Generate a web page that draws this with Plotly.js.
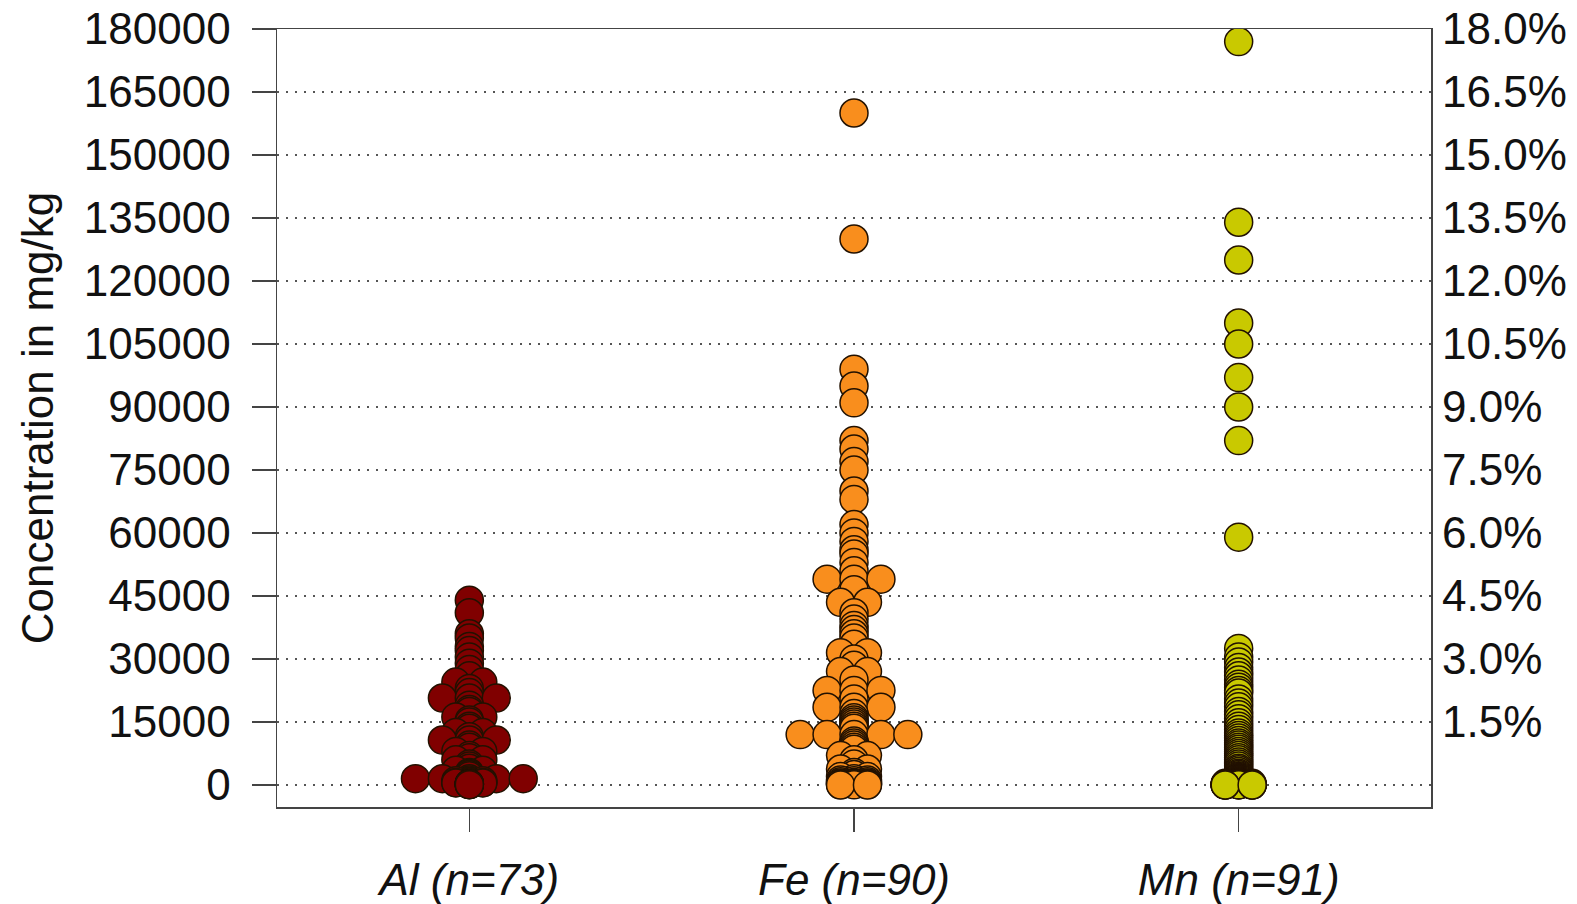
<!DOCTYPE html>
<html>
<head>
<meta charset="utf-8">
<script src="https://cdn.plot.ly/plotly-3.0.1.min.js"></script>
<style>html,body{margin:0;padding:0;background:#fff;}#chart{width:1577px;height:904px;}</style>
</head>
<body>
<div id="chart"></div>
<script>
// ---- data (mg/kg) ----
const categories = ["Al (n=73)", "Fe (n=90)", "Mn (n=91)"];
const groupNames = ["Al", "Fe", "Mn"];

const alValues = [
  44000, 41000, 36000, 35000, 33000, 32000, 30500, 29000, 27500, 26000,
  24500, 24500, 23000, 22000, 20700, 20700, 20700, 19000, 18000, 17500,
  16200, 16200, 15500, 15000, 14000, 13500, 12500, 12500, 11500,
  10700, 10700, 10700, 9500, 9000, 8000, 8000, 7000, 6500, 6000, 6000,
  5000, 4500, 4000, 3500, 3500, 3000, 2800, 2500, 2200,
  1500, 1500, 1500, 1500, 1500,
  1200, 1000, 1000, 900, 800, 700, 600, 600, 500, 500, 400, 350, 300, 250, 200, 150, 120, 100, 80
];

const feValues = [
  160000, 130000, 99000, 95000, 91000, 82000, 80000, 77000, 75000, 70000, 68000,
  62000, 60000, 58000, 56000, 55000, 53000, 51000,
  49000, 49000, 49000, 46500, 43500, 43500,
  41000, 39500, 38000, 37000, 36000, 35000, 33500,
  31500, 31500, 30000, 28500, 27000, 27000, 25000,
  22500, 22500, 22500, 20500, 18500, 18500, 18500,
  17000, 16000, 15500, 15000, 14500, 14000, 13500,
  12000, 12000, 12000, 12000, 12000,
  10500, 10000, 9500, 9000, 8500, 7000, 7000, 6000, 5000, 3800, 3800, 3000, 2500,
  2000, 2000, 1500, 1200, 1200, 1000, 800, 800, 600, 500, 500, 400, 300, 300, 200, 100, 100, 50, 0, 0
];

const mnValues = [
  177000, 134000, 125000, 110000, 105000, 97000, 90000, 82000, 59000,
  32500, 30500, 29300, 28000, 26900, 26000, 25000, 24000, 23300, 22500, 21900,
  20500, 19500, 18600, 17500, 16700, 15800, 14800, 14000, 13200, 12400,
  11800, 11200, 10600, 10000, 9500, 9000, 8500, 8000, 7500, 7000,
  6500, 6000, 5500, 5000, 4500, 4000, 3600, 3200, 2800,
  2500, 2200, 2000, 1800, 1600, 1500, 1400, 1300, 1200, 1100, 1000, 900, 800, 700, 600,
  550, 500, 450, 400, 400, 350, 300, 250, 200, 180, 150, 150, 120, 100, 100, 80, 60,
  50, 50, 40, 30, 30, 20, 20, 10, 10
];

const groupColors = ["#800000", "#F98E1D", "#C9C900"];

const leftTickVals = [0, 15000, 30000, 45000, 60000, 75000, 90000, 105000, 120000, 135000, 150000, 165000, 180000];
const rightTickVals = [15000, 30000, 45000, 60000, 75000, 90000, 105000, 120000, 135000, 150000, 165000, 180000];
const rightTickText = ["1.5%", "3.0%", "4.5%", "6.0%", "7.5%", "9.0%", "10.5%", "12.0%", "13.5%", "15.0%", "16.5%", "18.0%"];

// ---- layout of tied values: identical values are spread side by side ----
const STEP = 0.07; // horizontal step between tied points, in category units
function swarmX(values, centre) {
  const counts = {};
  values.forEach(v => { counts[v] = (counts[v] || 0) + 1; });
  const used = {};
  return values.map(v => {
    const k = counts[v];
    const i = used[v] || 0;
    used[v] = i + 1;
    return centre + (i - (k - 1) / 2) * STEP;
  });
}

const allGroups = [alValues, feValues, mnValues];
const FONT = "Liberation Sans, Arial, Helvetica, sans-serif";

const traces = allGroups.map((vals, g) => ({
  type: "scatter",
  mode: "markers",
  name: groupNames[g],
  x: swarmX(vals, g + 1),
  y: vals,
  xaxis: "x",
  yaxis: "y",
  marker: {
    size: 28,
    color: groupColors[g],
    line: { color: "#221100", width: 1.5 }
  },
  hoverinfo: "y+name",
  showlegend: false
}));

// invisible trace for right axis
traces.push({
  type: "scatter", mode: "markers", x: [2], y: [0], yaxis: "y2", xaxis: "x",
  marker: { opacity: 0 }, hoverinfo: "skip", showlegend: false
});

const yRange = [-5240, 180000];

const layout = {
  width: 1577,
  height: 904,
  paper_bgcolor: "#ffffff",
  plot_bgcolor: "#ffffff",
  margin: { l: 277, r: 146, t: 29, b: 97 },
  font: { family: FONT, color: "#111", size: 44 },
  showlegend: false,
  xaxis: {
    range: [0.5, 3.5],
    tickmode: "array",
    tickvals: [1, 2, 3],
    ticktext: categories,
    tickfont: { family: FONT, size: 44, color: "#111", style: "italic" },
    ticks: "outside",
    ticklen: 23,
    tickwidth: 1.5,
    tickcolor: "#444",
    ticklabelstandoff: 11,
    showgrid: false,
    zeroline: false,
    showline: true,
    linecolor: "#444",
    linewidth: 1.5,
    mirror: true
  },
  yaxis: {
    range: yRange,
    tickmode: "array",
    tickvals: leftTickVals,
    ticktext: leftTickVals.map(v => String(v)),
    tickfont: { family: FONT, size: 44, color: "#111" },
    ticks: "outside",
    ticklen: 24,
    tickwidth: 1.5,
    tickcolor: "#444",
    ticklabelstandoff: 12,
    showgrid: true,
    gridcolor: "#555",
    gridwidth: 1.5,
    griddash: "2px,7px",
    zeroline: false,
    showline: true,
    linecolor: "#444",
    linewidth: 1.5,
    mirror: true,
    title: { text: "Concentration in mg/kg", font: { family: FONT, size: 44, color: "#111" }, standoff: 16 }
  },
  yaxis2: {
    overlaying: "y",
    side: "right",
    range: yRange,
    tickmode: "array",
    tickvals: rightTickVals,
    ticktext: rightTickText,
    tickfont: { family: FONT, size: 44, color: "#111" },
    ticks: "",
    ticklabelstandoff: 10,
    showgrid: false,
    zeroline: false,
    showline: false
  }
};

Plotly.newPlot("chart", traces, layout, { displayModeBar: false, staticPlot: true });
</script>
</body>
</html>
